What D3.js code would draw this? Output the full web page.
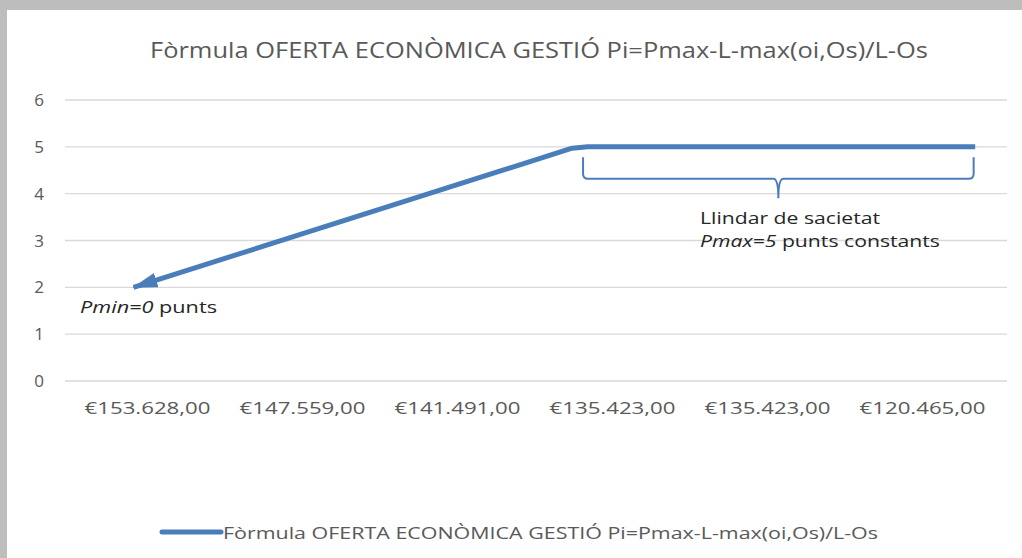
<!DOCTYPE html>
<html>
<head>
<meta charset="utf-8">
<script src="https://cdn.jsdelivr.net/npm/d3@7"></script>
<style>
  html, body { margin: 0; padding: 0; background: #bdbdbd; }
  svg { display: block; }
</style>
</head>
<body>
<div id="chart"></div>
<script>
// category labels along the x axis (as shown, in order)
const categories = ['€153.628,00', '€147.559,00', '€141.491,00', '€135.423,00', '€135.423,00', '€120.465,00'];
// series drawn as a polyline: position in category-index units and value
const seriesPos = [-0.09, 2.74, 2.84, 5.34];
const seriesVal = [2, 4.97, 5, 5];
const yTicks = [0, 1, 2, 3, 4, 5, 6];
const seriesName = 'Fòrmula OFERTA ECONÒMICA GESTIÓ Pi=Pmax-L-max(oi,Os)/L-Os';

const cfg = {
  width: 1022,
  height: 558,
  color: '#4a7ebb',
  grid: '#d9d9d9',
  text: '#595959',
  font: '"Open Sans", "Liberation Sans", sans-serif',
};

const svg = d3.select('#chart').append('svg')
  .attr('width', cfg.width).attr('height', cfg.height);

// white chart area on the gray page
svg.append('rect').attr('x', 7).attr('y', 10)
  .attr('width', cfg.width - 7).attr('height', cfg.height - 10)
  .attr('fill', '#fff');

const plot = { left: 65, right: 1007, top: 100, bottom: 381 };

// band scale over category index (two labels are identical)
const x = d3.scaleBand().domain(d3.range(categories.length)).range([70, 1000]);
const xi = d3.scaleLinear().domain([0, 1])
  .range([x(0) + x.bandwidth() / 2, x(1) + x.bandwidth() / 2]);
const y = d3.scaleLinear().domain([0, 6]).range([plot.bottom, plot.top]);

// title
svg.append('text')
  .attr('x', 539).attr('y', 58)
  .attr('text-anchor', 'middle')
  .attr('textLength', 778).attr('lengthAdjust', 'spacingAndGlyphs')
  .style('font-family', cfg.font).style('font-size', '21px')
  .style('fill', cfg.text)
  .text(seriesName);

// gridlines
svg.append('g').selectAll('line')
  .data(yTicks).enter().append('line')
  .attr('x1', plot.left).attr('x2', plot.right)
  .attr('y1', d => y(d)).attr('y2', d => y(d))
  .style('stroke', cfg.grid).style('stroke-width', 1.3);

// y axis labels
svg.append('g').selectAll('text')
  .data(yTicks).enter().append('text')
  .attr('x', 44).attr('y', d => y(d) + 6)
  .attr('text-anchor', 'end')
  .style('font-family', cfg.font).style('font-size', '17px')
  .style('fill', cfg.text)
  .text(d => d);

// x axis labels
svg.append('g').selectAll('text')
  .data(categories).enter().append('text')
  .attr('x', (d, i) => x(i) + x.bandwidth() / 2).attr('y', 414)
  .attr('text-anchor', 'middle')
  .attr('textLength', 126).attr('lengthAdjust', 'spacingAndGlyphs')
  .style('font-family', cfg.font).style('font-size', '17px')
  .style('fill', cfg.text)
  .text(d => d);

// arrow head marker, tip sits on the first point
svg.append('defs').append('marker')
  .attr('id', 'arrow')
  .attr('viewBox', '0 0 10 6')
  .attr('refX', 9.5).attr('refY', 3)
  .attr('markerWidth', 5).attr('markerHeight', 3)
  .attr('markerUnits', 'strokeWidth')
  .attr('orient', 'auto-start-reverse')
  .append('path')
  .attr('d', 'M0,0 L10,3 L0,6 Z')
  .style('fill', cfg.color);

const pts = seriesPos.map((p, i) => [xi(p), y(seriesVal[i])]);

svg.append('path')
  .attr('d', d3.line()(pts))
  .attr('marker-start', 'url(#arrow)')
  .style('fill', 'none')
  .style('stroke', cfg.color)
  .style('stroke-width', 5)
  .style('stroke-linecap', 'butt')
  .style('stroke-linejoin', 'round');

// curly bracket below the plateau
const bx0 = xi(2.81);
const bx1 = xi(5.33);
const bmid = (bx0 + bx1) / 2;
const bTop = y(4.78);
const bBot = y(4.32);
const bTip = y(3.9);
const r = 5;
svg.append('path')
  .attr('d', `M${bx0},${bTop} L${bx0},${bBot - r} Q${bx0},${bBot} ${bx0 + r},${bBot}`
    + ` L${bmid - r},${bBot} Q${bmid},${bBot} ${bmid},${bTip}`
    + ` Q${bmid},${bBot} ${bmid + r},${bBot} L${bx1 - r},${bBot}`
    + ` Q${bx1},${bBot} ${bx1},${bBot - r} L${bx1},${bTop}`)
  .style('fill', 'none')
  .style('stroke', cfg.color)
  .style('stroke-width', 2);

// annotations
const note = svg.append('g')
  .style('font-family', cfg.font).style('font-size', '17px').style('fill', '#262626');
note.append('text').attr('x', 700).attr('y', 224)
  .attr('textLength', 180).attr('lengthAdjust', 'spacingAndGlyphs')
  .text('Llindar de sacietat');
const l2 = note.append('text').attr('x', 700).attr('y', 247)
  .attr('textLength', 240).attr('lengthAdjust', 'spacingAndGlyphs');
l2.append('tspan').style('font-style', 'italic').text('Pmax=5');
l2.append('tspan').text(' punts constants');

const l3 = note.append('text').attr('x', 80).attr('y', 313)
  .attr('textLength', 137).attr('lengthAdjust', 'spacingAndGlyphs');
l3.append('tspan').style('font-style', 'italic').text('Pmin=0');
l3.append('tspan').text(' punts');

// legend
svg.append('line')
  .attr('x1', 162).attr('x2', 221).attr('y1', 532).attr('y2', 532)
  .style('stroke', cfg.color).style('stroke-width', 5).style('stroke-linecap', 'round');
svg.append('text')
  .attr('x', 223).attr('y', 539)
  .attr('textLength', 655).attr('lengthAdjust', 'spacingAndGlyphs')
  .style('font-family', cfg.font).style('font-size', '17px')
  .style('fill', cfg.text)
  .text(seriesName);
</script>
</body>
</html>
